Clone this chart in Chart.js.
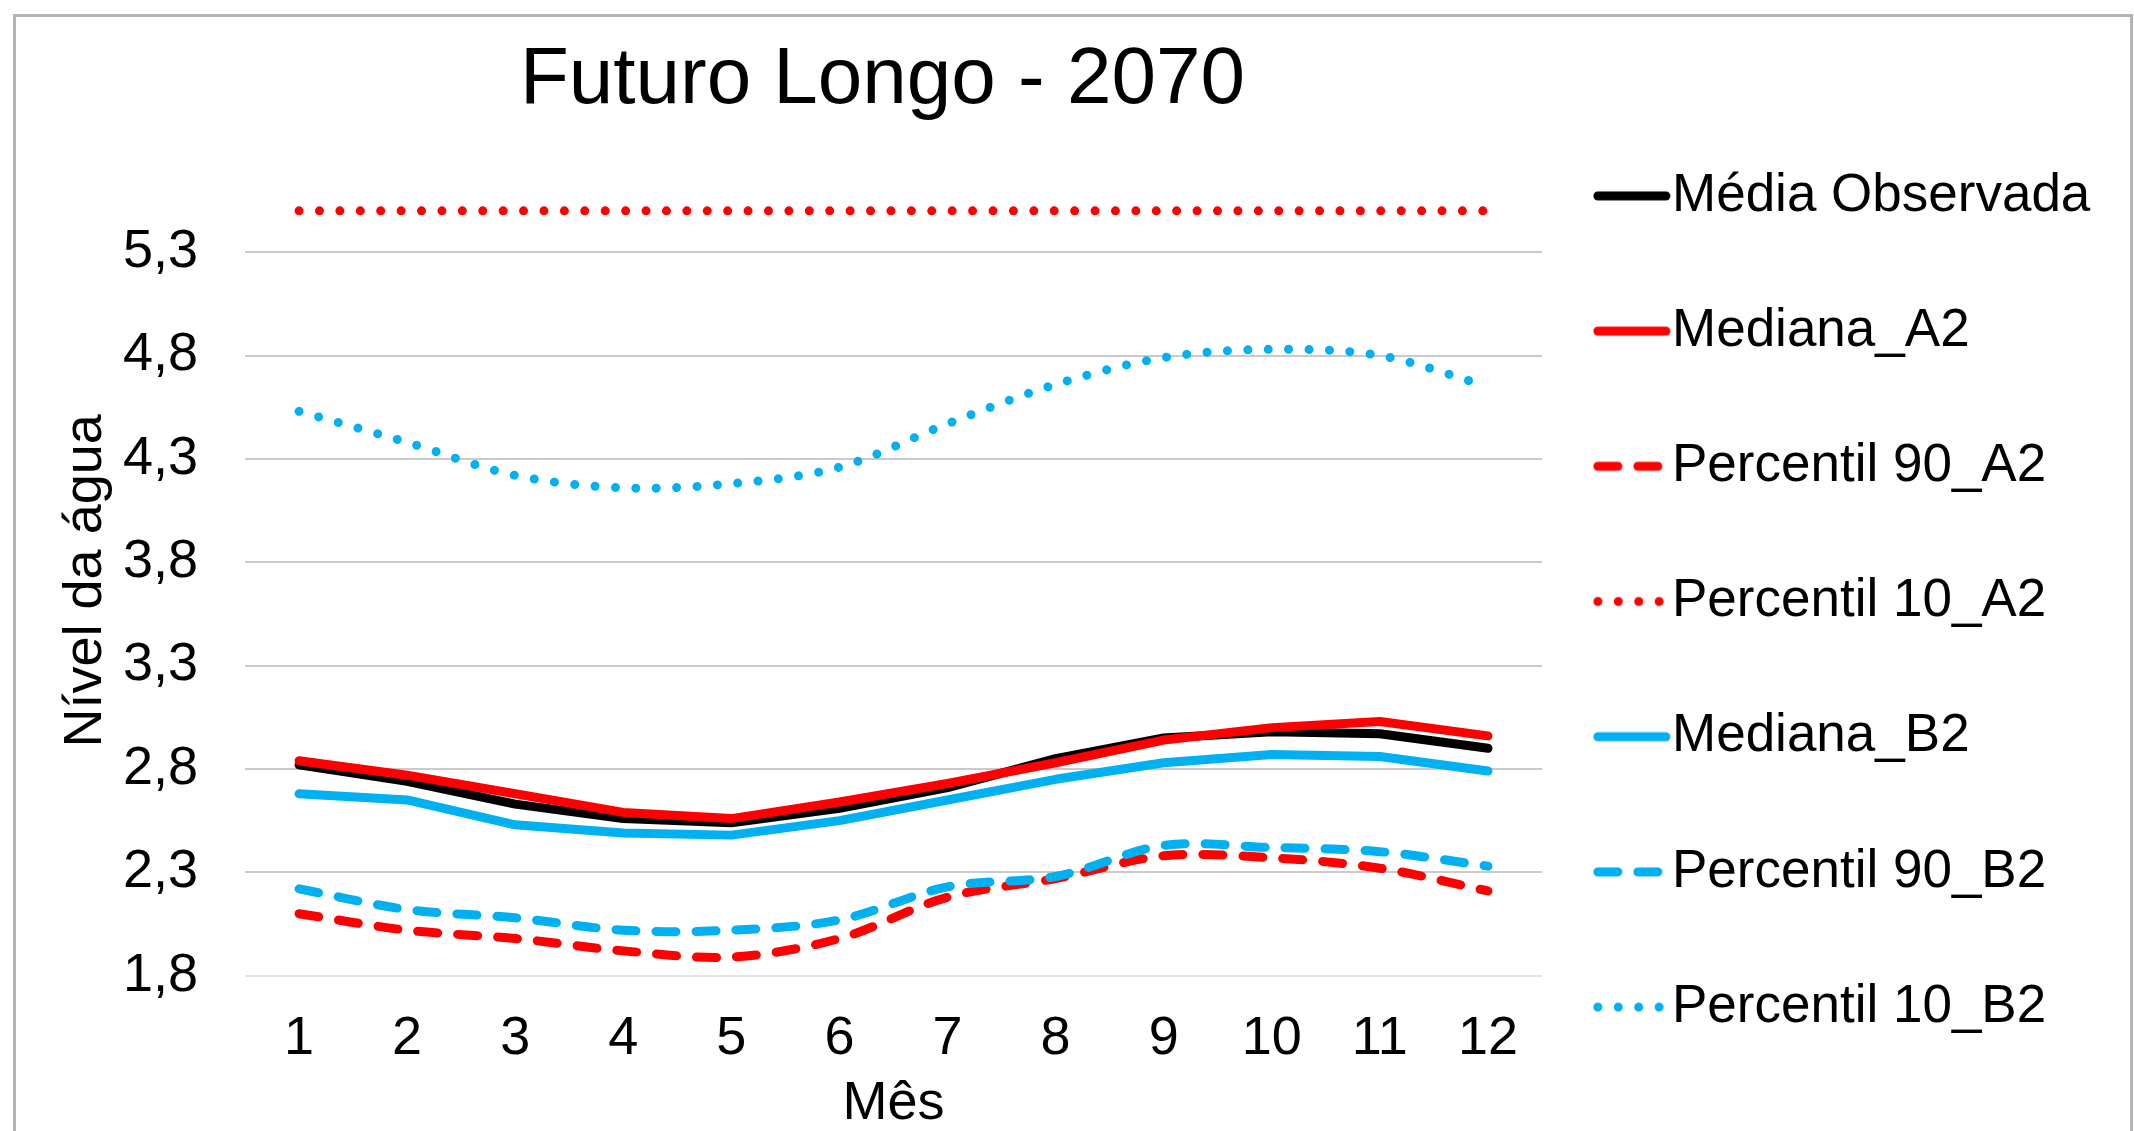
<!DOCTYPE html>
<html>
<head>
<meta charset="utf-8">
<script src="https://cdn.jsdelivr.net/npm/chart.js@4.4.1/dist/chart.umd.min.js"></script>
<style>
html,body{margin:0;padding:0;background:#fff;overflow:hidden;width:2134px;height:1131px;}
#frame{position:absolute;left:13px;top:14px;width:2120px;height:1200px;border:3px solid #b4b4b4;border-bottom:none;box-sizing:border-box;}
#wrap{position:absolute;left:0;top:0;width:2134px;height:1203px;}
canvas{display:block;}
</style>
</head>
<body>
<div id="frame"></div>
<div id="wrap"><canvas id="c" width="2134" height="1203"></canvas></div>
<script>
// ---- data ----
const months = ['1','2','3','4','5','6','7','8','9','10','11','12'];
const mediaObservada = [2.82,2.74,2.63,2.56,2.54,2.61,2.71,2.85,2.95,2.98,2.97,2.90];
const medianaA2      = [2.84,2.77,2.68,2.59,2.56,2.64,2.73,2.83,2.94,3.00,3.03,2.96];
const percentil90A2  = [2.10,2.02,1.98,1.92,1.89,1.98,2.18,2.27,2.38,2.37,2.32,2.21];
const percentil10A2  = [5.5,5.5,5.5,5.5,5.5,5.5,5.5,5.5,5.5,5.5,5.5,5.5];
const medianaB2      = [2.68,2.65,2.53,2.49,2.48,2.55,2.65,2.75,2.83,2.87,2.86,2.79];
const percentil90B2  = [2.22,2.12,2.08,2.02,2.02,2.07,2.23,2.28,2.43,2.42,2.40,2.33];
const percentil10B2  = [4.53,4.38,4.22,4.16,4.18,4.26,4.47,4.66,4.79,4.83,4.80,4.65];
const yTickValues = [1.8,2.3,2.8,3.3,3.8,4.3,4.8,5.3];
const yTickLabels = ['1,8','2,3','2,8','3,3','3,8','4,3','4,8','5,3'];
const seriesNames = ['Média Observada','Mediana_A2','Percentil 90_A2','Percentil 10_A2','Mediana_B2','Percentil 90_B2','Percentil 10_B2'];

// ---- styles ----
const H = 1203;
const FONT = "'Liberation Sans', Arial, sans-serif";
const RED = '#FF0000', BLUE = '#00B0F0', BLACK = '#000000';
const SOLID = [], DASH = [20, 20], DOT = [0.01, 20.4];
const PLOT_BOTTOM = 975.7;

function legendImg(color, dash) {
  const c = document.createElement('canvas');
  c.width = 84; c.height = 14;
  const g = c.getContext('2d');
  g.strokeStyle = color; g.lineWidth = 9; g.lineCap = 'round';
  g.setLineDash(dash);
  g.beginPath();
  g.moveTo(5, 7);
  g.lineTo(dash === DOT ? 67 : 73, 7);
  g.stroke();
  return c;
}

function ds(label, data, color, dash, tension, order) {
  return {
    label: label, data: data, borderColor: color, backgroundColor: color,
    borderWidth: 9, borderDash: dash, borderCapStyle: 'round', borderJoinStyle: 'round',
    pointRadius: 0, pointHoverRadius: 0, fill: false, tension: tension, order: order,
    legendImage: legendImg(color, dash)
  };
}

const datasets = [
  ds(seriesNames[0], mediaObservada, BLACK, SOLID, 0, 7),
  ds(seriesNames[1], medianaA2, RED, SOLID, 0, 6),
  ds(seriesNames[2], percentil90A2, RED, DASH, 0.33, 5),
  ds(seriesNames[3], percentil10A2, RED, DOT, 0, 4),
  ds(seriesNames[4], medianaB2, BLUE, SOLID, 0, 3),
  ds(seriesNames[5], percentil90B2, BLUE, DASH, 0.33, 2),
  ds(seriesNames[6], percentil10B2, BLUE, DOT, 0.33, 1)
];

new Chart(document.getElementById('c'), {
  type: 'line',
  data: { labels: months, datasets: datasets },
  options: {
    responsive: false,
    animation: false,
    devicePixelRatio: 1,
    events: [],
    layout: { padding: { left: 0, right: 36, top: 0, bottom: 0 } },
    plugins: {
      title: {
        display: true, text: 'Futuro Longo - 2070 ', fullSize: false, color: '#000',
        font: { family: FONT, size: 80, weight: 'normal' },
        padding: { top: 33, bottom: 57 }
      },
      legend: {
        position: 'right', align: 'center', maxWidth: 556,
        labels: {
          usePointStyle: true, pointStyleWidth: 21.3, padding: 82.2, color: '#000',
          font: { family: FONT, size: 53 },
          generateLabels: function(chart) {
            return chart.data.datasets.map(function(d, i) {
              return { text: d.label, pointStyle: d.legendImage, fillStyle: d.borderColor,
                       strokeStyle: d.borderColor, lineWidth: 0, hidden: false, datasetIndex: i, fontColor: '#000' };
            });
          }
        }
      },
      tooltip: { enabled: false }
    },
    scales: {
      x: {
        type: 'category', offset: true,
        grid: { display: false, drawTicks: false },
        border: { display: false },
        ticks: { color: '#000', font: { family: FONT, size: 54 }, padding: 31, maxRotation: 0, autoSkip: false },
        title: { display: true, text: 'Mês', color: '#000', font: { family: FONT, size: 54 }, padding: { top: 0, bottom: 66.6 } },
        afterFit: function(s) { s.height = H - PLOT_BOTTOM; }
      },
      y: {
        min: 1.8, max: 5.62,
        afterBuildTicks: function(s) { s.ticks = yTickValues.map(function(v) { return { value: v }; }); },
        ticks: {
          color: '#000', font: { family: FONT, size: 54 }, padding: 47,
          callback: function(v, i) { return yTickLabels[i]; }
        },
        grid: {
          drawTicks: false, lineWidth: 2,
          color: function(ctx) { return ctx.tick && ctx.tick.value === 1.8 ? '#e3e3e3' : '#cacaca'; }
        },
        border: { display: false },
        title: { display: true, text: 'Nível da água', color: '#000', font: { family: FONT, size: 54 }, padding: { top: 54, bottom: 0 } },
        afterFit: function(s) { s.width = 245; }
      }
    }
  }
});
</script>
</body>
</html>
